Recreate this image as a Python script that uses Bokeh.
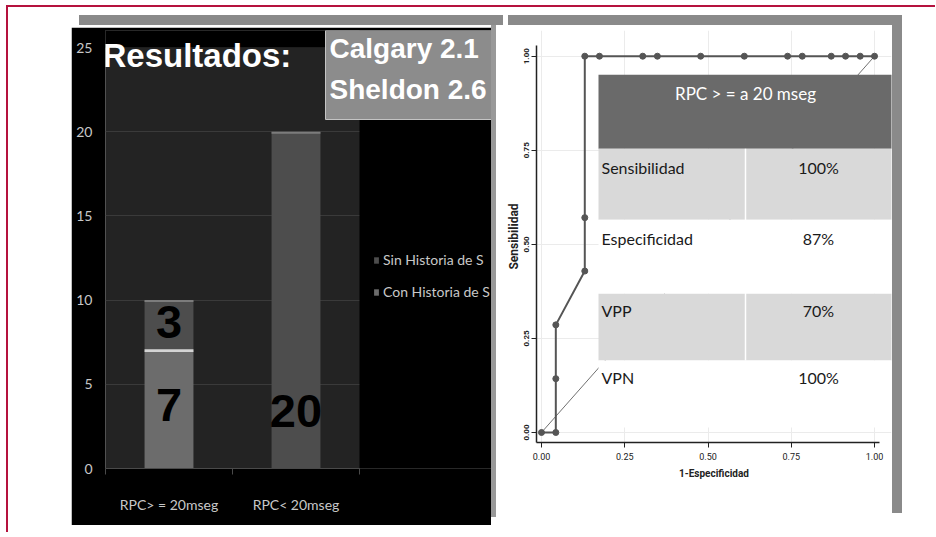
from bokeh.plotting import figure
from bokeh.models import (Range1d, Legend, LegendItem, Label, BoxAnnotation,
                          Spacer, PrintfTickFormatter, FixedTicker)
from bokeh.layouts import row, column
from bokeh.embed import file_html
from bokeh.resources import INLINE
from bokeh.core.properties import value

# ---------------- data ----------------
categories = ["RPC> = 20mseg", "RPC< 20mseg"]
con_historia = [7, 0]
sin_historia = [3, 20]
bar_ticks = [0, 5, 10, 15, 20, 25]
bar_labels = ["7", "3", "20"]

roc_fpr = [0.0, 0.043, 0.043, 0.043, 0.13, 0.13, 0.13, 0.174, 0.304, 0.348,
           0.478, 0.609, 0.739, 0.783, 0.87, 0.913, 0.957, 1.0]
roc_tpr = [0.0, 0.0, 0.143, 0.286, 0.429, 0.571, 1.0, 1.0, 1.0, 1.0,
           1.0, 1.0, 1.0, 1.0, 1.0, 1.0, 1.0, 1.0]
ref_line = [0.0, 1.0]
roc_ticks = [0.0, 0.25, 0.5, 0.75, 1.0]

table_title = "RPC > = a 20 mseg"
table_metrics = ["Sensibilidad", "Especificidad", "VPP", "VPN"]
table_values = ["100%", "87%", "70%", "100%"]

ARIAL = "Liberation Sans"
CAL = "Lato"
STATA = "Roboto"

# ---------------- left: bar chart ----------------
n = len(categories)
cat_pos = [i + 0.5 for i in range(n)]
px_per_unit_y = 421 / 25.0
px_per_unit_x = 254 / float(n)

pA = figure(x_range=Range1d(0, 386 / px_per_unit_x),
            y_range=Range1d(0, bar_ticks[-1] + 17 / px_per_unit_y),
            frame_width=386, frame_height=438, output_backend="svg", toolbar_location=None,
            min_border_left=34, min_border_right=0, min_border_top=3, min_border_bottom=57,
            background_fill_color="#232323", border_fill_color="black",
            outline_line_color=None, title=None)

# black outside of the plotting area
pA.add_layout(BoxAnnotation(left=-5, right=n + 5, bottom=bar_ticks[-1], top=bar_ticks[-1] + 10,
                            fill_color="black", fill_alpha=1,
                            line_color=None, level="underlay"))
pA.add_layout(BoxAnnotation(left=n, right=n + 5, bottom=-5, top=bar_ticks[-1] + 10,
                            fill_color="black", fill_alpha=1,
                            line_color=None, level="underlay"))

tot = [a + b for a, b in zip(con_historia, sin_historia)]
r_con = pA.vbar(x=cat_pos, bottom=0, top=con_historia, width=0.385,
                fill_color="#6c6c6c", line_color=None)
r_sin = pA.vbar(x=cat_pos, bottom=con_historia, top=tot, width=0.385,
                fill_color="#4d4d4d", line_color=None)

sep_x = [x for x, a, b in zip(cat_pos, con_historia, sin_historia) if a > 0 and b > 0]
sep_y = [a for a, b in zip(con_historia, sin_historia) if a > 0 and b > 0]
pA.vbar(x=sep_x, bottom=[v - 0.08 for v in sep_y], top=[v + 0.08 for v in sep_y],
        width=0.385, fill_color="#d4d4d4", line_color=None)
pA.vbar(x=cat_pos, bottom=[v - 0.12 for v in tot], top=tot,
        width=0.385, fill_color="#7c7c7c", line_color=None)

lab_x = [cat_pos[0], cat_pos[0], cat_pos[1]]
lab_y = [con_historia[0] / 2 + 0.3, con_historia[0] + sin_historia[0] / 2 + 0.2, 3.4]
pA.text(x=lab_x, y=lab_y, text=bar_labels, text_font=value(ARIAL), text_font_style="bold",
        text_font_size="47px", text_align="center", text_baseline="middle", text_color="black")

pA.yaxis.ticker = bar_ticks
pA.yaxis.bounds = (0, bar_ticks[-1])
pA.yaxis.axis_line_color = None
pA.yaxis.major_tick_line_color = None
pA.yaxis.major_tick_out = 0
pA.yaxis.minor_tick_line_color = None
pA.yaxis.major_label_text_color = "#c8c8c8"
pA.yaxis.major_label_text_font = CAL
pA.yaxis.major_label_text_font_size = "14px"
pA.yaxis.major_label_standoff = 13

pA.xaxis.ticker = FixedTicker(ticks=cat_pos, minor_ticks=list(range(n + 1)))
pA.xaxis.major_label_overrides = {p: c for p, c in zip(cat_pos, categories)}
pA.xaxis.bounds = (0, n)
pA.xaxis.axis_line_color = "#4a4a4a"
pA.xaxis.major_tick_line_color = None
pA.xaxis.major_tick_out = 0
pA.xaxis.minor_tick_line_color = "#4a4a4a"
pA.xaxis.minor_tick_out = 6
pA.xaxis.minor_tick_in = 0
pA.xaxis.major_label_text_color = "#c8c8c8"
pA.xaxis.major_label_text_font = CAL
pA.xaxis.major_label_text_font_size = "14px"
pA.xaxis.major_label_standoff = 21

pA.xgrid.grid_line_color = None
pA.ygrid.ticker = bar_ticks
pA.ygrid.grid_line_color = "#3a3a3a"

legend = Legend(items=[LegendItem(label="Sin Historia de S", renderers=[r_sin]),
                       LegendItem(label="Con Historia de S", renderers=[r_con])],
                location=(268, 168), glyph_width=6, glyph_height=8, label_height=16,
                spacing=15, padding=0, margin=0, label_standoff=4,
                background_fill_alpha=0, border_line_color=None,
                label_text_color="#c8c8c8", label_text_font=CAL, label_text_font_size="14px")
pA.add_layout(legend)

pA.add_layout(Label(x=-3, y=413, x_units="screen", y_units="screen", text="Resultados:",
                    text_color="white", text_font=ARIAL, text_font_style="bold",
                    text_font_size="33px", text_baseline="middle"))

pA.add_layout(BoxAnnotation(left=220, right=390, top=438, bottom=349,
                            left_units="screen", right_units="screen",
                            top_units="screen", bottom_units="screen",
                            fill_color="#8c8c8c", fill_alpha=1,
                            line_color="#c4c4c4", line_width=1, line_alpha=1))
for txt, yy in (("Calgary 2.1", 420), ("Sheldon 2.6", 379)):
    pA.add_layout(Label(x=224, y=yy, x_units="screen", y_units="screen", text=txt,
                        text_color="white", text_font=ARIAL, text_font_style="bold",
                        text_font_size="28px", text_baseline="middle"))

# ---------------- right: ROC ----------------
pB = figure(x_range=Range1d(-0.015, 1.051), y_range=Range1d(-0.0266, 1.0683),
            frame_width=355, frame_height=412, output_backend="svg", toolbar_location=None,
            min_border_left=39, min_border_right=1, min_border_top=3, min_border_bottom=81,
            background_fill_color="white", border_fill_color="white",
            outline_line_color=None, title=None)

for ax, bnds in ((pB.xaxis, (-0.015, 1.016)), (pB.yaxis, (-0.0266, 1.028))):
    ax.bounds = bnds
    ax.ticker = roc_ticks
    ax.formatter = PrintfTickFormatter(format="%.2f")
    ax.axis_line_color = "#222222"
    ax.axis_line_width = 1.5
    ax.major_tick_line_color = "#222222"
    ax.major_tick_out = 5
    ax.major_tick_in = 0
    ax.minor_tick_line_color = None
    ax.major_label_text_font = STATA
    ax.major_label_text_color = "#222222"
    ax.axis_label_text_font = STATA
    ax.axis_label_text_font_style = "bold"
    ax.axis_label_text_color = "#222222"

pB.xaxis.major_label_text_font_size = "9px"
pB.xaxis.major_label_standoff = 5
pB.xaxis.axis_label = "1-Especificidad"
pB.xaxis.axis_label_text_font_size = "10px"
pB.xaxis.axis_label_standoff = 5
pB.yaxis.major_label_text_font_size = "8px"
pB.yaxis.major_label_text_font_style = "bold"
pB.yaxis.major_label_orientation = "vertical"
pB.yaxis.major_label_standoff = 2
pB.yaxis.axis_label = "Sensibilidad"
pB.yaxis.axis_label_text_font_size = "12px"
pB.yaxis.axis_label_standoff = 1

pB.xgrid.ticker = roc_ticks
pB.ygrid.ticker = roc_ticks
pB.grid.grid_line_color = "#ebebeb"

pB.line(ref_line, ref_line, line_color="#707070", line_width=1)
pB.line(roc_fpr, roc_tpr, line_color="#555555", line_width=2)
pB.scatter(roc_fpr, roc_tpr, size=6, fill_color="#555555", line_color="#555555")

# table overlay (frame-relative pixels)
t_left, t_mid, t_right = 62, 209, 356
edges = [367.7, 293.7, 222.7, 148.7, 82, 15]
fills = ["#6a6a6a", "#d9d9d9", "white", "#d9d9d9", "white"]
for i, fc in enumerate(fills):
    pB.add_layout(BoxAnnotation(left=t_left, right=t_right, top=edges[i], bottom=edges[i + 1],
                                left_units="screen", right_units="screen",
                                top_units="screen", bottom_units="screen",
                                fill_color=fc, fill_alpha=1, line_color=None))
pB.add_layout(BoxAnnotation(left=t_mid - 0.75, right=t_mid + 0.75, top=edges[1], bottom=edges[4],
                            left_units="screen", right_units="screen",
                            top_units="screen", bottom_units="screen",
                            fill_color="white", fill_alpha=1, line_color=None))
pB.add_layout(Label(x=t_mid, y=349, x_units="screen", y_units="screen", text=table_title,
                    text_color="white", text_font=CAL, text_font_size="17px",
                    text_align="center", text_baseline="middle"))
row_y = [275.3, 204.3, 132, 64.7]
for m, v, yy in zip(table_metrics, table_values, row_y):
    pB.add_layout(Label(x=t_left + 3, y=yy, x_units="screen", y_units="screen", text=m,
                        text_color="#1a1a1a", text_font=CAL, text_font_size="16px",
                        text_align="left", text_baseline="middle"))
    pB.add_layout(Label(x=282, y=yy, x_units="screen", y_units="screen", text=v,
                        text_color="#1a1a1a", text_font=CAL, text_font_size="16px",
                        text_align="center", text_baseline="middle"))

# ---------------- page decoration / layout ----------------
def bar(w, h, color, margin=(0, 0, 0, 0)):
    return Spacer(width=w, height=h, margin=margin, styles={"background-color": color})

pA.margin = (2, 0, 0, 63)
pB.margin = (2, 0, 0, 1)

top_line = bar(929, 2, "#b5123e", (5, 0, 0, 6))
left_line = bar(2, 525, "#b5123e", (0, 0, 0, 6))
band_row = row(bar(424, 10, "#8a8a8a", (8, 0, 0, 71)), bar(394, 10, "#8a8a8a", (8, 0, 0, 5)),
               spacing=0)
panels_row = row(pA, bar(5, 492, "#999999"), pB, bar(10, 488, "#8a8a8a"), spacing=0)
inner = column(band_row, panels_row, spacing=0)
root = column(top_line, row(left_line, inner, spacing=0), spacing=0)

open("out.html", "w").write(file_html(root, INLINE))
